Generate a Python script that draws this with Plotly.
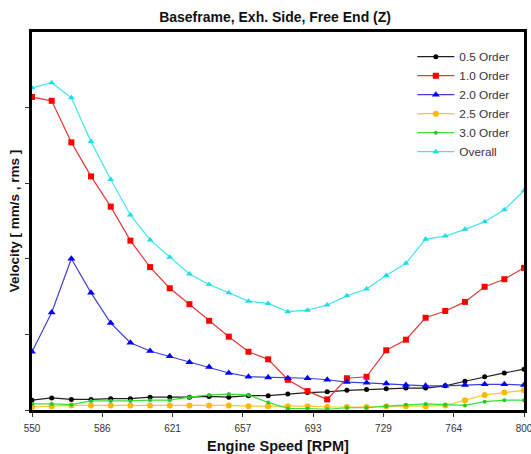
import plotly.graph_objects as go

# Engine speed sweep (RPM), 10 RPM steps
rpm = list(range(550, 801, 10))

# Velocity per order [mm/s rms]
order_05 = [0.13, 0.16, 0.14, 0.14, 0.15, 0.15, 0.17, 0.17, 0.17, 0.18, 0.17, 0.19, 0.19,
            0.21, 0.23, 0.24, 0.26, 0.27, 0.28, 0.29, 0.29, 0.32, 0.38, 0.44, 0.49, 0.54]
order_10 = [4.14, 4.09, 3.54, 3.09, 2.69, 2.24, 1.89, 1.61, 1.40, 1.18, 0.97, 0.77, 0.67,
            0.40, 0.25, 0.14, 0.42, 0.44, 0.79, 0.93, 1.22, 1.31, 1.43, 1.63, 1.73, 1.88]
order_20 = [0.77, 1.29, 2.00, 1.55, 1.15, 0.89, 0.78, 0.71, 0.63, 0.57, 0.49, 0.44, 0.43,
            0.42, 0.42, 0.40, 0.37, 0.36, 0.35, 0.33, 0.32, 0.32, 0.33, 0.34, 0.34, 0.33]
order_25 = [0.04, 0.05, 0.06, 0.06, 0.06, 0.06, 0.06, 0.06, 0.06, 0.06, 0.06, 0.05, 0.05,
            0.05, 0.05, 0.04, 0.04, 0.04, 0.05, 0.05, 0.05, 0.06, 0.13, 0.20, 0.23, 0.26]
order_30 = [0.08, 0.08, 0.07, 0.12, 0.12, 0.12, 0.13, 0.13, 0.17, 0.20, 0.21, 0.20, 0.10,
            0.02, 0.02, 0.01, 0.03, 0.03, 0.05, 0.07, 0.08, 0.07, 0.06, 0.11, 0.13, 0.13]
overall = [4.26, 4.33, 4.13, 3.55, 3.05, 2.58, 2.25, 2.02, 1.80, 1.66, 1.55, 1.44, 1.41,
           1.30, 1.32, 1.39, 1.51, 1.60, 1.78, 1.94, 2.26, 2.30, 2.39, 2.49, 2.65, 2.90]

tick_vals = [550 + i * 250 / 7 for i in range(8)]
tick_text = ["550", "586", "621", "657", "693", "729", "764", "800"]

series = [
    ("0.5 Order", order_05, "#202020", "#000000", "circle", 5),
    ("1.0 Order", order_10, "#E23A3A", "#FF0000", "square", 6),
    ("2.0 Order", order_20, "#3F3FD6", "#0000FF", "triangle-up", 7),
    ("2.5 Order", order_25, "#FFC81E", "#FFB800", "circle", 6),
    ("3.0 Order", order_30, "#3EDC3E", "#22CC22", "circle", 4),
    ("Overall", overall, "#3EE6EE", "#1ADDE8", "triangle-up", 6),
]

FONT = "Liberation Sans, Arial, sans-serif"

fig = go.Figure()
for name, vals, lcol, mcol, sym, size in series:
    fig.add_trace(go.Scatter(
        x=rpm, y=vals, name=name, mode="lines+markers",
        line=dict(color=lcol, width=1.2),
        marker=dict(color=mcol, symbol=sym, size=size, line=dict(width=0)),
    ))

fig.update_layout(
    width=531, height=454,
    margin=dict(l=32, r=7, t=32, b=44, autoexpand=False),
    paper_bgcolor="white", plot_bgcolor="white",
    font=dict(family=FONT, color="#222222"),
    title=dict(text="<b>Baseframe, Exh. Side, Free End (Z)</b>",
               x=0.518, xanchor="center", y=0.963, yanchor="middle",
               font=dict(size=14, color="#111111")),
    showlegend=True,
    legend=dict(x=0.773, xanchor="left", y=0.973, yanchor="top",
                bgcolor="rgba(0,0,0,0)", borderwidth=0,
                font=dict(size=11.8, color="#333333"),
                itemwidth=37, tracegroupgap=0),
    xaxis=dict(range=[550, 800], tickvals=tick_vals, ticktext=tick_text,
               automargin=False, ticklabeloverflow="allow", ticklabelstandoff=3,
               showgrid=False, zeroline=False,
               showline=True, linecolor="black", linewidth=3, mirror=True,
               ticks="outside", ticklen=4, tickcolor="#333333", tickwidth=1,
               tickfont=dict(size=10, color="#333333"),
               title=dict(text="<b>Engine Speed [RPM]</b>", standoff=11,
                          font=dict(size=14.5, color="#111111"))),
    yaxis=dict(range=[0, 5], tickvals=[0, 1, 2, 3, 4], showticklabels=False,
               automargin=False,
               showgrid=False, zeroline=False,
               showline=True, linecolor="black", linewidth=3, mirror=True,
               ticks="outside", ticklen=4, tickcolor="#333333", tickwidth=1,
               title=dict(text="<b>Velocity [ mm/s , rms ]</b>", standoff=3,
                          font=dict(size=13.5, color="#111111"))),
)

fig.write_html("out.html")
